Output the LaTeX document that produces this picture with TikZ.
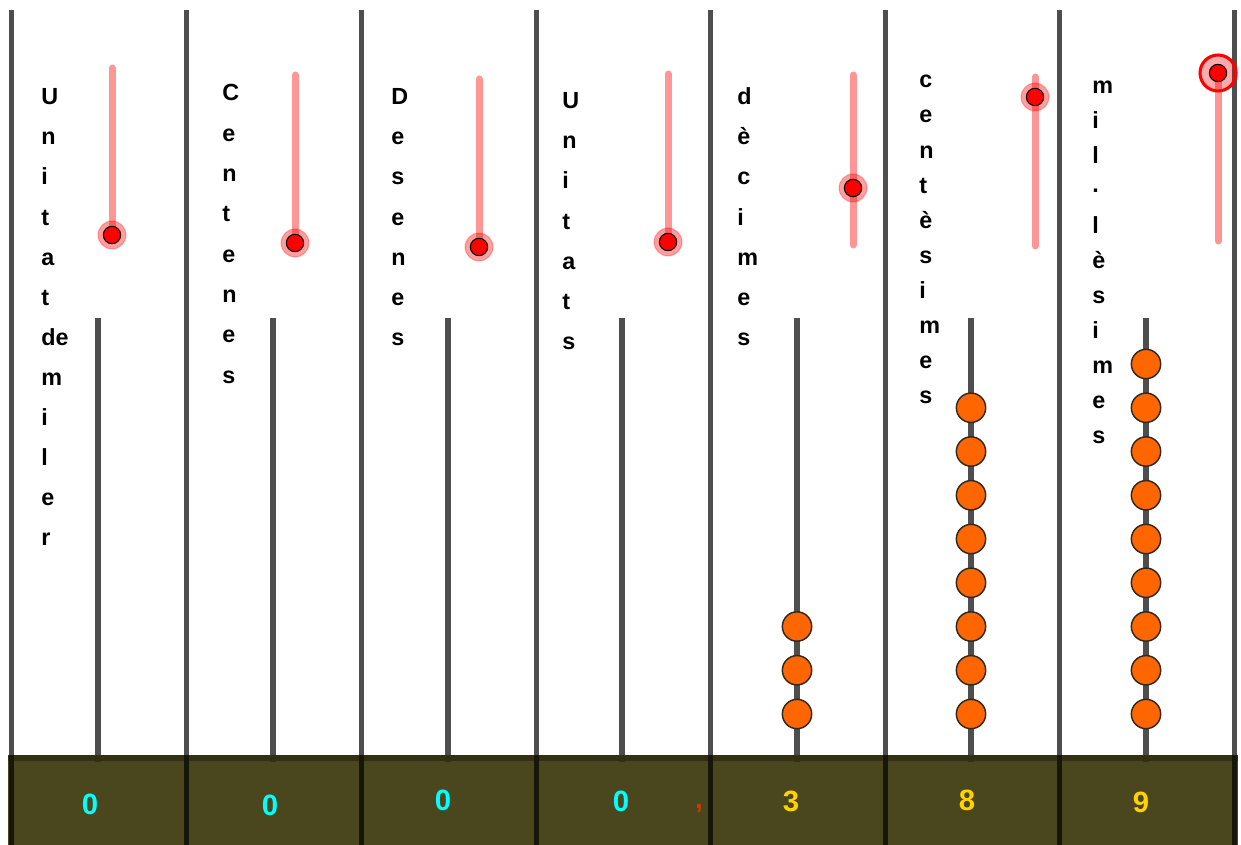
\documentclass[tikz,border=0pt]{standalone}
\usepackage{fontspec}
\setmainfont{Liberation Sans}
\definecolor{divgray}{RGB}{78,78,78}
\definecolor{slidepink}{RGB}{255,150,150}
\definecolor{beadorange}{RGB}{255,102,0}
\definecolor{beadedge}{RGB}{50,40,30}
\definecolor{barolive}{RGB}{74,70,30}
\definecolor{bartop}{RGB}{50,48,18}
\definecolor{bardiv}{RGB}{22,22,10}
\definecolor{digcyan}{RGB}{0,255,255}
\definecolor{diggold}{RGB}{255,210,0}
\definecolor{commared}{RGB}{225,50,0}
\begin{document}
\begin{tikzpicture}[x=0.75pt,y=-0.75pt,
  divider/.style={line width=3.75pt, draw=divgray},
  rod/.style={line width=4pt, draw=divgray},
  slide/.style={line width=5.25pt, draw=slidepink, line cap=round},
  bead/.style={circle, fill=beadorange, draw=beadedge, line width=1.1pt, minimum size=22pt, inner sep=0pt},
  knobhalo/.style={circle, fill=red, fill opacity=0.38, draw=red, draw opacity=0.25, line width=0.8pt, minimum size=21pt, inner sep=0pt},
  knob/.style={circle, fill=red, draw=black, line width=0.8pt, minimum size=13pt, inner sep=0pt},
  bigring/.style={circle, fill=red, fill opacity=0.33, draw=red, draw opacity=1, line width=2.3pt, minimum size=27pt, inner sep=0pt},
  letter/.style={anchor=base west, inner sep=0pt, font=\bfseries\fontsize{17.5}{17.5}\selectfont},
  digit/.style={inner sep=0pt, font=\bfseries\fontsize{22}{22}\selectfont}
]
\useasboundingbox (0,0) rectangle (1241,845);
\fill[white] (0,0) rectangle (1241,845);

% column dividers
\foreach \x [count=\k] in {11,186,361,536,710,885,1059,1234}
  \draw[divider] (\x,10) -- (\x,845);

% rods
\foreach \x [count=\k] in {98,273,448,622,797,971,1146}
  \draw[rod] (\x,318) -- (\x,762);

% bottom bar
\fill[barolive] (8,755) rectangle (1238,845);
\fill[bartop] (8,755) rectangle (1238,761);
\foreach \x in {11,186,361,536,710,885,1059,1234}
  \draw[line width=3.75pt, draw=bardiv] (\x,755) -- (\x,845);
\foreach \x in {98,273,448,622,797,971,1146}
  \draw[line width=4pt, draw=bartop] (\x,755) -- (\x,762);

% beads
\foreach \k in {0,1,2}
  \node[bead] (b5-\k) at (797,714-43.75*\k) {};
\foreach \k in {0,...,7}
  \node[bead] (b6-\k) at (971,714-43.75*\k) {};
\foreach \k in {0,...,8}
  \node[bead] (b7-\k) at (1146,714-43.75*\k) {};

% sliders
\draw[slide] (112,68) -- (112,235);
\node[knobhalo] (h1) at (112,235) {};
\node[knob] (k1) at (112,235) {};
\draw[slide] (295,75) -- (295,243);
\node[knobhalo] (h2) at (295,243) {};
\node[knob] (k2) at (295,243) {};
\draw[slide] (479,79) -- (479,247);
\node[knobhalo] (h3) at (479,247) {};
\node[knob] (k3) at (479,247) {};
\draw[slide] (668,74) -- (668,242);
\node[knobhalo] (h4) at (668,242) {};
\node[knob] (k4) at (668,242) {};
\draw[slide] (853,75) -- (853,245);
\node[knobhalo] (h5) at (853,188) {};
\node[knob] (k5) at (853,188) {};
\draw[slide] (1035,77) -- (1035,246);
\node[knobhalo] (h6) at (1035,97) {};
\node[knob] (k6) at (1035,97) {};
\draw[slide] (1218,75) -- (1218,241);
\node[bigring] (h7) at (1218,73) {};
\node[knob] (k7) at (1218,73) {};

% vertical labels
\foreach \ch [count=\i from 0] in {U,n,i,t,a,t,de,m,i,l,e,r}
  \node[letter] (la-\i) at (41,105+40*\i) {\ch};
\foreach \ch [count=\i from 0] in {C,e,n,t,e,n,e,s}
  \node[letter] (lb-\i) at (222,101+40.3*\i) {\ch};
\foreach \ch [count=\i from 0] in {D,e,s,e,n,e,s}
  \node[letter] (lc-\i) at (391,105+40*\i) {\ch};
\foreach \ch [count=\i from 0] in {U,n,i,t,a,t,s}
  \node[letter] (ld-\i) at (562,109+40*\i) {\ch};
\foreach \ch [count=\i from 0] in {d,è,c,i,m,e,s}
  \node[letter] (le-\i) at (737,105+40*\i) {\ch};
\foreach \ch [count=\i from 0] in {c,e,n,t,è,s,i,m,e,s}
  \node[letter] (lf-\i) at (919,88+35*\i) {\ch};
\foreach \ch [count=\i from 0] in {m,i,l,·,l,è,s,i,m,e,s}
  \node[letter] (lg-\i) at (1092,94+34.9*\i) {\ch};

% digits
\node[digit, text=digcyan] (d1) at (90,804) {0};
\node[digit, text=digcyan] (d2) at (270,805) {0};
\node[digit, text=digcyan] (d3) at (443,800) {0};
\node[digit, text=digcyan] (d4) at (621,801) {0};
\node[anchor=base, inner sep=0pt, text=commared, font=\bfseries\fontsize{20}{20}\selectfont] (cm) at (699,808) {,};
\node[digit, text=diggold] (d5) at (791,801) {3};
\node[digit, text=diggold] (d6) at (967,800) {8};
\node[digit, text=diggold] (d7) at (1141,802) {9};
\end{tikzpicture}
\end{document}
